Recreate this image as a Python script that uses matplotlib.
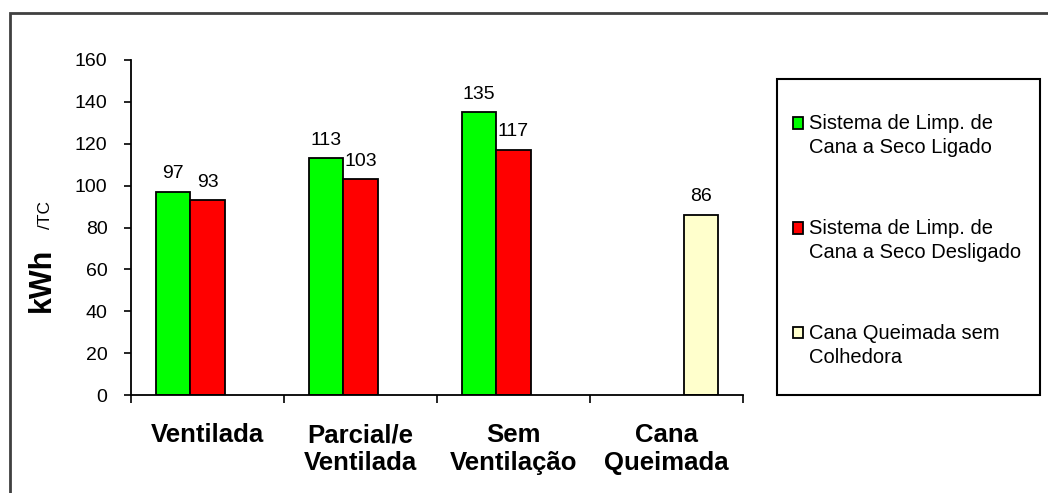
import matplotlib.pyplot as plt
import matplotlib.patches as mpatches
from matplotlib.legend_handler import HandlerPatch
import numpy as np

plt.rcParams['font.family'] = ['Liberation Sans', 'DejaVu Sans']

# categorias e valores (kWh/TC)
categorias = ["Ventilada", "Parcial/e\nVentilada", "Sem\nVentilação", "Cana\nQueimada"]
seco_ligado = [97, 113, 135, None]
seco_desligado = [93, 103, 117, None]
queimada = [None, None, None, 86]

series = [
    ("Sistema de Limp. de\nCana a Seco Ligado", seco_ligado, "#00ff00"),
    ("Sistema de Limp. de\nCana a Seco Desligado", seco_desligado, "#ff0000"),
    ("Cana Queimada sem\nColhedora", queimada, "#ffffcc"),
]

W, H = 1048, 493
fig = plt.figure(figsize=(W / 100, H / 100), dpi=100)
ax = fig.add_axes([131 / W, 1 - 395 / H, (743 - 131) / W, (395 - 60) / H])

# moldura da área do gráfico
fig.patches.append(mpatches.Rectangle((10 / W, -0.2), 2, 1.2 - 13 / H,
                                      transform=fig.transFigure, fill=False,
                                      edgecolor="#404040", linewidth=2))
# caixa da legenda
fig.patches.append(mpatches.Rectangle((777 / W, 1 - 395 / H), (1040 - 777) / W, (395 - 79) / H,
                                      transform=fig.transFigure, fill=False,
                                      edgecolor="black", linewidth=1.5))

largura = 0.225
centros = np.arange(len(categorias)) + 0.5
handles = []
for i, (nome, valores, cor) in enumerate(series):
    desloc = (i - 1) * largura
    xs = [c + desloc for c, v in zip(centros, valores) if v is not None]
    ys = [v for v in valores if v is not None]
    ax.bar(xs, ys, width=largura, color=cor, edgecolor="black", linewidth=1.3)
    for x, y in zip(xs, ys):
        ax.annotate(str(y), (x, y), xytext=(0, 7), textcoords="offset points",
                    ha="center", va="bottom", fontsize=14)
    handles.append(mpatches.Patch(facecolor=cor, edgecolor="black", linewidth=1.3, label=nome))

ax.set_xlim(0, len(categorias))
ax.set_ylim(0, 160)
ax.set_yticks(np.arange(0, 161, 20))
ax.tick_params(axis="y", direction="out", length=5, width=1.2, pad=12, labelsize=14)
ax.set_xticks(np.arange(0, len(categorias) + 1))
ax.set_xticklabels([])
ax.tick_params(axis="x", which="major", direction="out", length=6, width=1.2)
ax.set_xticks(centros, minor=True)
ax.set_xticklabels(categorias, minor=True, fontsize=18.5, fontweight="bold", linespacing=1.21)
ax.tick_params(axis="x", which="minor", length=0, pad=20.5)

for s in ["top", "right"]:
    ax.spines[s].set_visible(False)
for s in ["left", "bottom"]:
    ax.spines[s].set_linewidth(1.3)

fig.text(41.5 / W, 1 - 280 / H, "kWh", rotation=90, fontsize=22, fontweight="bold",
         ha="center", va="center")
fig.text(45 / W, 1 - 215 / H, "/TC", rotation=90, fontsize=12.5,
         ha="center", va="center")


# marcador da legenda alinhado com a primeira linha do texto
def quadrado(legend, orig_handle, xdescent, ydescent, width, height, fontsize):
    return mpatches.Rectangle((-xdescent, -ydescent + 0.65 * fontsize), width, height)


leg = fig.legend(handles=handles, loc="upper left",
                 bbox_to_anchor=(793 / W, 1 - 114 / H),
                 fontsize=14.5, frameon=False,
                 handlelength=0.5, handleheight=0.5,
                 handletextpad=0.3, labelspacing=3.05, borderpad=0,
                 borderaxespad=0,
                 handler_map={mpatches.Patch: HandlerPatch(patch_func=quadrado)})
for t in leg.get_texts():
    t.set_linespacing(1.36)

fig.savefig("out.png", dpi=100)
